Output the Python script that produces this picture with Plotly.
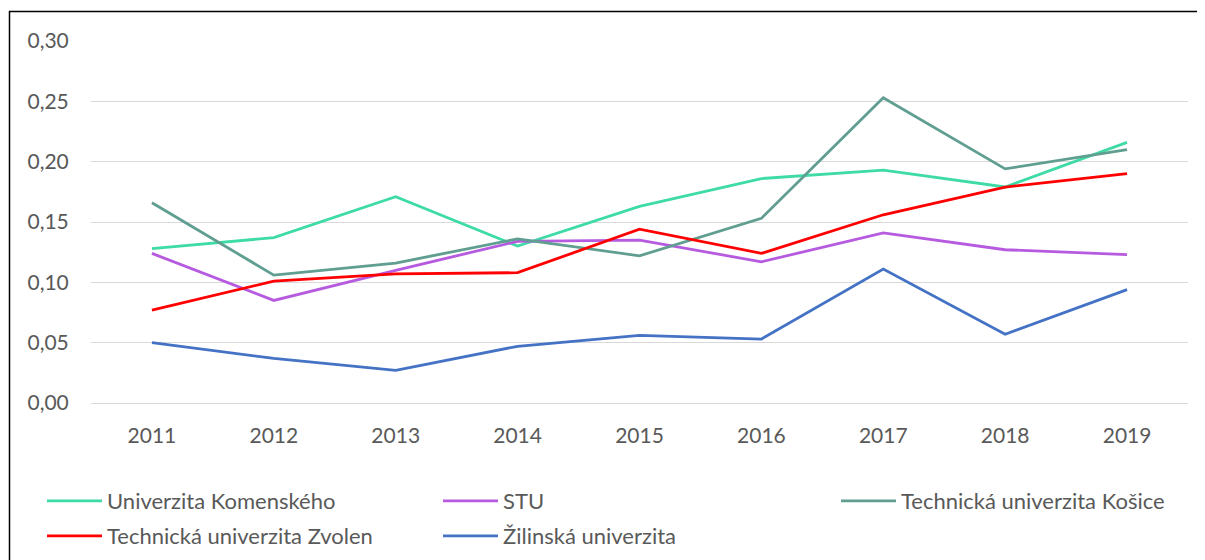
import plotly.graph_objects as go

years = ["2011", "2012", "2013", "2014", "2015", "2016", "2017", "2018", "2019"]
komenskeho = [0.128, 0.137, 0.171, 0.130, 0.163, 0.186, 0.193, 0.179, 0.216]
stu = [0.124, 0.085, 0.110, 0.134, 0.135, 0.117, 0.141, 0.127, 0.123]
kosice = [0.166, 0.106, 0.116, 0.136, 0.122, 0.153, 0.253, 0.194, 0.210]
zvolen = [0.077, 0.101, 0.107, 0.108, 0.144, 0.124, 0.156, 0.179, 0.190]
zilina = [0.050, 0.037, 0.027, 0.047, 0.056, 0.053, 0.111, 0.057, 0.094]

names = ["Univerzita Komenského", "STU", "Technická univerzita Košice",
         "Technická univerzita Zvolen", "Žilinská univerzita"]
series = [komenskeho, stu, kosice, zvolen, zilina]
colors = ["#3EDBA6", "#B65BDF", "#5F9E90", "#FF0000", "#4472C4"]
legend_ids = ["legend", "legend", "legend3", "legend2", "legend2"]

FONT = "Lato"
FS = 21
LFS = 22
TXT = "#595959"
OFF = 8  # page body margin

fig = go.Figure()
for n, s, c, lg in zip(names, series, colors, legend_ids):
    fig.add_trace(go.Scatter(x=years, y=s, name=n, mode="lines", legend=lg,
                             line=dict(color=c, width=2.8)))

W, H = 1197, 552
# target page-pixel positions, converted to layout coordinates
L, R, T, B = 91 - OFF, 1188 - OFF, 41 - OFF, 403 - OFF
pw, ph = R - L, B - T

def px(x):
    return (x - OFF - L) / pw

def py(y):
    return (B - (y - OFF)) / ph

fig.add_shape(type="rect", xref="paper", yref="paper",
              x0=px(9.5), x1=px(1215), y0=py(600), y1=py(11.5),
              line=dict(color="#000000", width=1.5), fillcolor="rgba(0,0,0,0)")

leg_common = dict(orientation="h", xanchor="left", yanchor="middle",
                  entrywidth=326, entrywidthmode="pixels", itemwidth=55,
                  font=dict(family=FONT, size=LFS, color=TXT),
                  bgcolor="rgba(0,0,0,0)")

fig.update_layout(
    width=W, height=H,
    margin=dict(l=L, r=W - R, t=T, b=H - B, autoexpand=False),
    paper_bgcolor="white", plot_bgcolor="white",
    separators=", ",
    font=dict(family=FONT, size=FS, color=TXT),
    showlegend=True,
    legend=dict(x=px(42), y=py(501), **leg_common),
    legend3=dict(x=px(836), y=py(501), **leg_common),
    legend2=dict(x=px(42), y=py(536), **leg_common),
)
fig.update_xaxes(type="category", range=[-0.5, 8.5], showgrid=False, zeroline=False,
                 showline=False, ticks="outside", ticklen=14,
                 tickcolor="rgba(0,0,0,0)",
                 tickfont=dict(family=FONT, size=FS, color=TXT))
fig.update_yaxes(range=[0, 0.30], dtick=0.05, tickformat=".2f",
                 showgrid=True, gridcolor="#D9D9D9", gridwidth=1,
                 zeroline=True, zerolinecolor="#D9D9D9", zerolinewidth=1,
                 showline=False, ticks="outside", ticklen=17,
                 tickcolor="rgba(0,0,0,0)",
                 tickfont=dict(family=FONT, size=FS, color=TXT))

fig.write_html("out.html")
